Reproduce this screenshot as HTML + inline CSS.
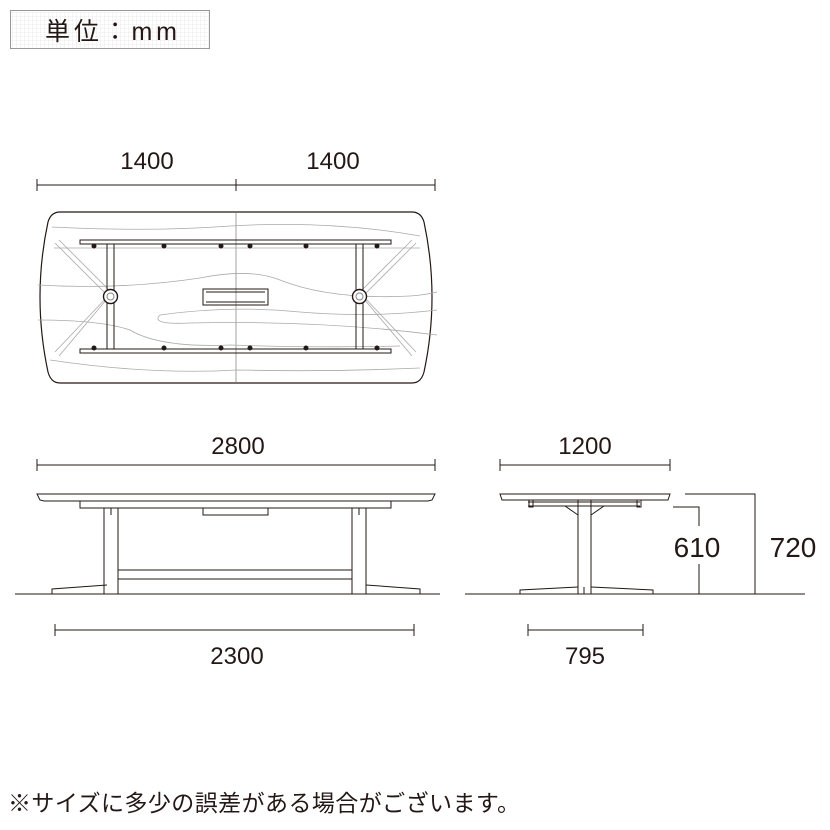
<!DOCTYPE html>
<html><head><meta charset="utf-8"><style>
html,body{margin:0;padding:0;background:#fff;width:830px;height:830px;overflow:hidden}
text{font-family:"Liberation Sans","Noto Sans CJK JP",sans-serif;fill:#231815}
</style></head><body>
<svg width="830" height="830" viewBox="0 0 830 830" xmlns="http://www.w3.org/2000/svg">
<defs><pattern id="g" width="4" height="4" patternUnits="userSpaceOnUse"><path d="M4 0H0V4" fill="none" stroke="#ddd" stroke-width="0.6"/></pattern></defs>
<rect x="10.5" y="10.5" width="199" height="38" fill="url(#g)" stroke="#999"/>
<text x="45" y="40" font-size="25" textLength="132">単位：mm</text>

<g stroke="#231815" fill="none" stroke-width="1">
<path d="M37 185H435M37 179V191M236 179V191M435 179V191"/>
<path d="M60 212H412Q421 212 424 222Q440 297 424 372Q421 383 412 383H60Q51 383 48 372Q32 297 48 222Q51 212 60 212Z" stroke-width="1.2"/>
<path d="M236 212V383" stroke="#777" stroke-width="0.7"/>
<g stroke="#aaa" stroke-width="0.8">
<path d="M52 227Q150 232 230 226Q330 220 420 236"/>
<path d="M38 285Q120 290 200 278Q250 268 280 280Q330 300 410 296Q425 295 437 292"/>
<path d="M160 315Q230 305 300 312Q370 318 437 310"/>
<path d="M160 315Q150 325 190 323Q320 320 437 335"/>
<path d="M38 320Q100 320 130 330Q160 348 230 345Q320 348 400 346"/>
<path d="M50 360Q150 375 237 370Q330 372 420 368"/>
<path d="M54 248H420"/>
<path d="M55 243L108 296L55 352M59 240L112 293L59 356"/>
<path d="M416 243L363 296L416 352M412 240L359 293L412 356"/>
</g>
<rect x="80" y="240" width="311" height="4"/>
<rect x="80" y="349" width="311" height="4"/>
<rect x="107" y="244" width="7" height="105"/>
<rect x="356" y="244" width="7" height="105"/>
<circle cx="110.5" cy="296.5" r="7" stroke-width="1.4" fill="#fff"/>
<circle cx="110.5" cy="296.5" r="3.5" stroke="#888"/>
<circle cx="359.5" cy="296.5" r="7" stroke-width="1.4" fill="#fff"/>
<circle cx="359.5" cy="296.5" r="3.5" stroke="#888"/>
<rect x="203" y="289" width="65" height="16"/>
<path d="M206 292H265M206 302H265"/>
</g>
<g fill="#231815">
<circle cx="94" cy="246" r="2.5"/><circle cx="164" cy="246" r="2.5"/><circle cx="221" cy="246" r="2.5"/><circle cx="250" cy="246" r="2.5"/><circle cx="306" cy="246" r="2.5"/><circle cx="377" cy="246" r="2.5"/>
<circle cx="94" cy="348" r="2.5"/><circle cx="164" cy="348" r="2.5"/><circle cx="221" cy="348" r="2.5"/><circle cx="250" cy="348" r="2.5"/><circle cx="306" cy="348" r="2.5"/><circle cx="377" cy="348" r="2.5"/>
</g>
<text x="147" y="169" font-size="24" text-anchor="middle">1400</text>
<text x="333" y="169" font-size="24" text-anchor="middle">1400</text>

<g stroke="#231815" fill="none" stroke-width="1">
<path d="M37 465H435M37 459V471M435 459V471"/>
<path d="M37 494H435L432 500L428 501H44L40 500Z"/>
<rect x="80" y="501" width="311" height="7"/>
<rect x="203" y="508" width="65" height="7"/>
<path d="M104 508V594M118 508V594M352 508V594M366 508V594"/>
<path d="M118 570H352M118 579H352"/>
<path d="M111 508V515M359 508V515"/>
<path d="M107 585L52 589V594M366 585L420 589V594"/>
<path d="M15 594H440"/>
<path d="M55 630H414M55 624V636M414 624V636"/>
</g>
<text x="238" y="454" font-size="24" text-anchor="middle">2800</text>
<text x="237" y="664" font-size="24" text-anchor="middle">2300</text>

<g stroke="#231815" fill="none" stroke-width="1">
<path d="M500 465H670M500 459V471M670 459V471"/>
<path d="M500 494H670L668 500H502Z"/>
<path d="M528 502H640M528 506H640"/>
<rect x="529" y="500" width="4" height="7"/>
<rect x="637" y="500" width="4" height="7"/>
<path d="M578 500V594M591 500V594"/>
<path d="M565 506L578 515M604 506L591 515"/>
<path d="M578 587L520 590V594M591 587L653 590V594M584 587V594"/>
<path d="M465 594H805"/>
<path d="M528 630H643M528 624V636M643 624V636"/>
<path d="M673 507H699V594"/>
<path d="M685 494H755V594"/>
</g>
<text x="585" y="454" font-size="24" text-anchor="middle">1200</text>
<text x="585" y="664" font-size="24" text-anchor="middle">795</text>
<rect x="668" y="526" width="56" height="38" fill="#fff"/>
<text x="697" y="557" font-size="28" text-anchor="middle">610</text>
<text x="793" y="557" font-size="28" text-anchor="middle">720</text>

<text x="8" y="811" font-size="23" textLength="512">※サイズに多少の誤差がある場合がございます。</text>
</svg>
</body></html>
